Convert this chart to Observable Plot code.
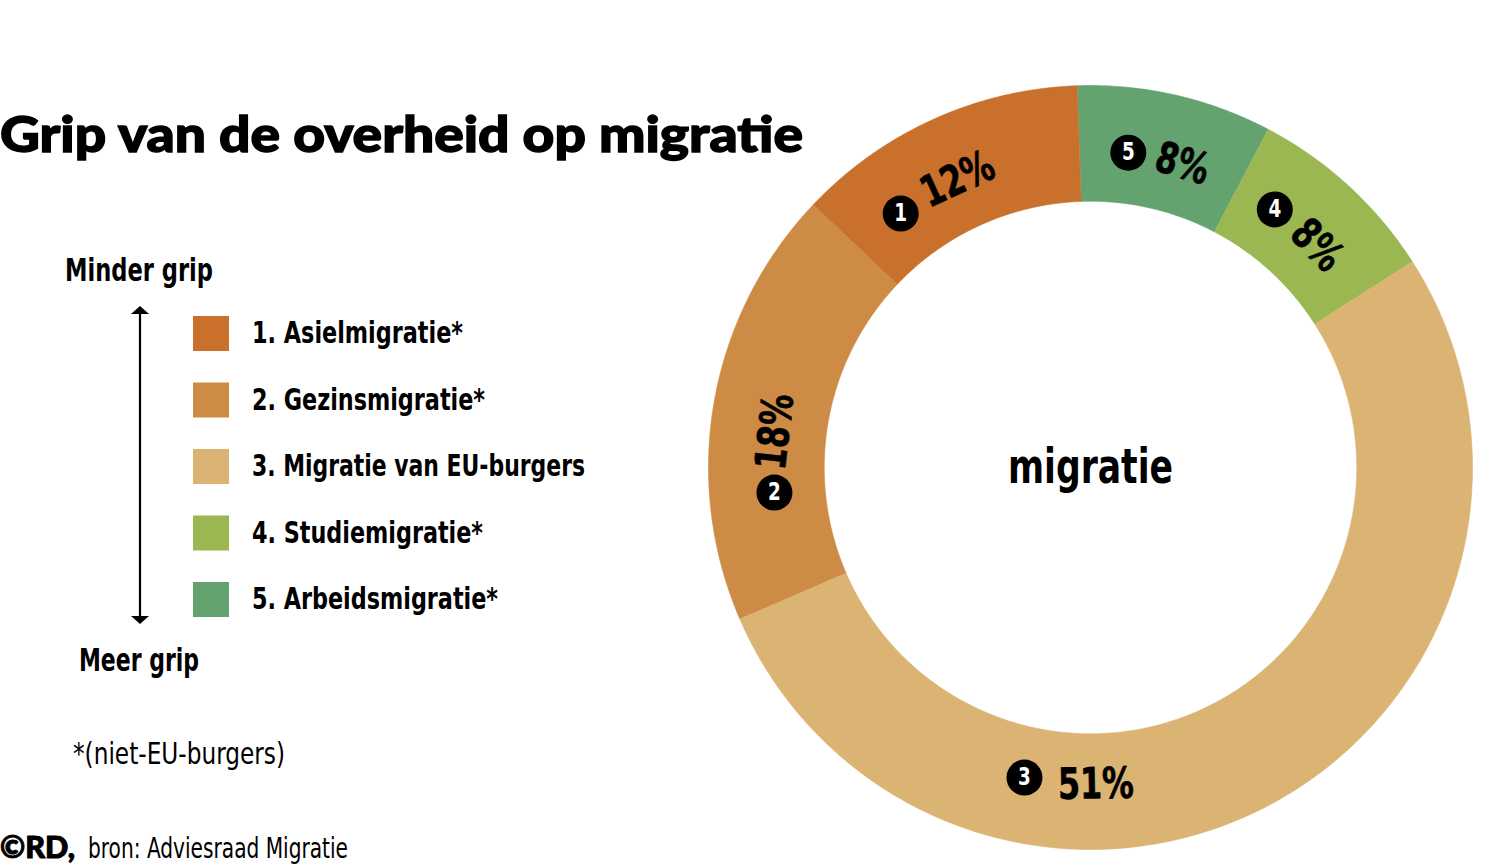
<!DOCTYPE html>
<html><head><meta charset="utf-8">
<script src="https://cdn.jsdelivr.net/npm/d3@7"></script>
<script src="https://cdn.jsdelivr.net/npm/@observablehq/plot@0.6"></script>
<style>
html,body{margin:0;padding:0;background:#fff;}
body{width:1495px;height:866px;position:relative;overflow:hidden;}
#left{position:absolute;left:0;top:0;}
#chart{position:absolute;left:695px;top:72px;}
.cond{font-family:"Liberation Sans Narrow","DejaVu Sans Condensed","Roboto Condensed",Roboto,sans-serif;}
</style></head><body>
<div id="chart"></div>
<svg id="left" width="830" height="866"></svg>
<script>
// ---- data ----
const categories = ["Asielmigratie*", "Gezinsmigratie*", "Migratie van EU-burgers", "Studiemigratie*", "Arbeidsmigratie*"];
const numbers = [1, 2, 3, 4, 5];
const shares = [12, 18, 51, 8, 8];
const colors = ["#C8702C", "#CD8B45", "#DBB373", "#9AB752", "#64A270"];
const clockwiseOrder = [5, 4, 3, 2, 1];
const title = "Grip van de overheid op migratie";
const centerLabel = "migratie";
const axisTop = "Minder grip";
const axisBottom = "Meer grip";
const footnote = "*(niet-EU-burgers)";
const credit = "©RD,";
const source = "bron: Adviesraad Migratie";

// ---- label placement config (degrees relative to slice middle) ----
const textShift = {1: -0.5, 2: -3.6, 3: 27, 4: 3, 5: 4};
const badgeShift = {1: -12, 2: -11, 3: 13, 4: -10, 5: -10};
const startAngle = -2;

// ---- left panel (title / legend) ----
const NS = "http://www.w3.org/2000/svg";
const left = document.getElementById("left");
function addText(str, x, y, size, weight, width, cls, family, strokeW) {
  const t = document.createElementNS(NS, "text");
  t.setAttribute("x", x); t.setAttribute("y", y);
  t.setAttribute("font-size", size); t.setAttribute("font-weight", weight);
  if (family) t.setAttribute("font-family", family);
  if (cls) t.setAttribute("class", cls);
  t.setAttribute("fill", "#000");
  if (strokeW) { t.setAttribute("stroke", "#000"); t.setAttribute("stroke-width", strokeW); }
  if (width) { t.setAttribute("textLength", width); t.setAttribute("lengthAdjust", "spacingAndGlyphs"); }
  t.textContent = str;
  left.appendChild(t);
  return t;
}
addText(title, 0, 152, 50, 900, 803, null, "Lato, 'Open Sans', sans-serif", 1.4);
addText(axisTop, 65, 281, 32, 700, 148, "cond");
addText(axisBottom, 79, 671, 32, 700, 120, "cond");
// arrow
const arrow = document.createElementNS(NS, "g");
arrow.innerHTML = '<line x1="140" y1="310" x2="140" y2="620" stroke="#000" stroke-width="2.2"/>' +
  '<path d="M131,314 L140,306 L149,314 Z" fill="#000"/>' +
  '<path d="M131,616 L140,624 L149,616 Z" fill="#000"/>';
left.appendChild(arrow);
const legendWidths = [211, 233, 333, 231, 246];
categories.forEach((c, i) => {
  const y0 = 316 + i * 66.5;
  const r = document.createElementNS(NS, "rect");
  r.setAttribute("x", 193); r.setAttribute("y", y0);
  r.setAttribute("width", 36); r.setAttribute("height", 35);
  r.setAttribute("fill", colors[i]);
  left.appendChild(r);
  addText(numbers[i] + ". " + c, 252, y0 + 27, 31, 700, legendWidths[i], "cond");
});
addText(footnote, 73, 764, 31, 400, 212, "cond");
addText(credit, 0, 858, 30, 900, 75, null, "Lato, 'Open Sans', sans-serif", 1);
addText(source, 88, 858, 29, 400, 260, "cond");

// ---- donut ----
const total = d3.sum(shares);
const slices = [];
let a = startAngle;
for (const n of clockwiseOrder) {
  const i = numbers.indexOf(n);
  const span = shares[i] / total * 360;
  slices.push({n, i, a0: a, a1: a + span, mid: a + span / 2});
  a += span;
}
const rOuter = 1, rInner = 0.697, rLabel = 0.83;
const rad = d => d * Math.PI / 180;
const polar = (r, deg) => ({x: r * Math.sin(rad(deg)), y: r * Math.cos(rad(deg))});

function ring(s) {
  const pts = [];
  const steps = Math.max(8, Math.ceil((s.a1 - s.a0) * 2));
  for (let k = 0; k <= steps; k++) pts.push(polar(rOuter, s.a0 + (s.a1 - s.a0) * k / steps));
  for (let k = steps; k >= 0; k--) pts.push(polar(rInner, s.a0 + (s.a1 - s.a0) * k / steps));
  return pts;
}

const pctLabels = slices.map(s => {
  const ang = s.mid + textShift[s.n];
  const p = polar(rLabel, ang);
  let rot = ((ang % 360) + 360) % 360;
  if (rot > 90 && rot < 270) rot -= 180; else if (rot >= 270) rot -= 360;
  return {...p, label: shares[s.i] + "%", rotate: rot};
});
const badges = slices.map(s => {
  const ang = s.mid + textShift[s.n] + badgeShift[s.n];
  return {...polar(rLabel, ang), label: String(s.n)};
});

const W = 790, Rpx = 382;
const half = (W / 2) / Rpx;
const condFont = '"Liberation Sans Narrow","DejaVu Sans Condensed","Roboto Condensed",Roboto,sans-serif';

const plot = Plot.plot({
  width: W, height: W, margin: 0,
  x: {domain: [-half, half], axis: null},
  y: {domain: [-half, half], axis: null},
  style: {background: "transparent", overflow: "visible"},
  marks: [
    ...slices.map(s => Plot.line(ring(s), {x: "x", y: "y", fill: colors[s.i], stroke: colors[s.i], strokeWidth: 0.6})),
    Plot.text(pctLabels, {x: "x", y: "y", text: "label", rotate: "rotate", fontSize: 43, fontWeight: "bold", fill: "#000", stroke: "#000", strokeWidth: 0.6, fontFamily: condFont, textAnchor: "middle", lineAnchor: "middle", className: "pct"}),
    Plot.dot(badges, {x: "x", y: "y", r: 18, fill: "#000", stroke: null}),
    Plot.text(badges, {x: "x", y: "y", text: "label", fontSize: 24, fontWeight: "bold", fill: "#fff", fontFamily: condFont, textAnchor: "middle", lineAnchor: "middle", className: "badge"}),
    Plot.text([centerLabel], {x: [0], y: [0], text: d => d, fontSize: 48, fontWeight: 600, fill: "#000", fontFamily: condFont, textAnchor: "middle", lineAnchor: "middle", className: "center"})
  ]
});
document.getElementById("chart").appendChild(plot);
// condense label glyphs (no condensed web font available offline)
function squeeze(sel, f, fixed) {
  plot.querySelectorAll(sel).forEach(t => {
    const len = fixed || t.getComputedTextLength() * f;
    t.setAttribute("textLength", len);
    t.setAttribute("lengthAdjust", "spacingAndGlyphs");
  });
}
squeeze(".pct text", 0.82);
squeeze(".badge text", 0.85);
squeeze(".center text", 1, 165);
</script>
</body></html>
